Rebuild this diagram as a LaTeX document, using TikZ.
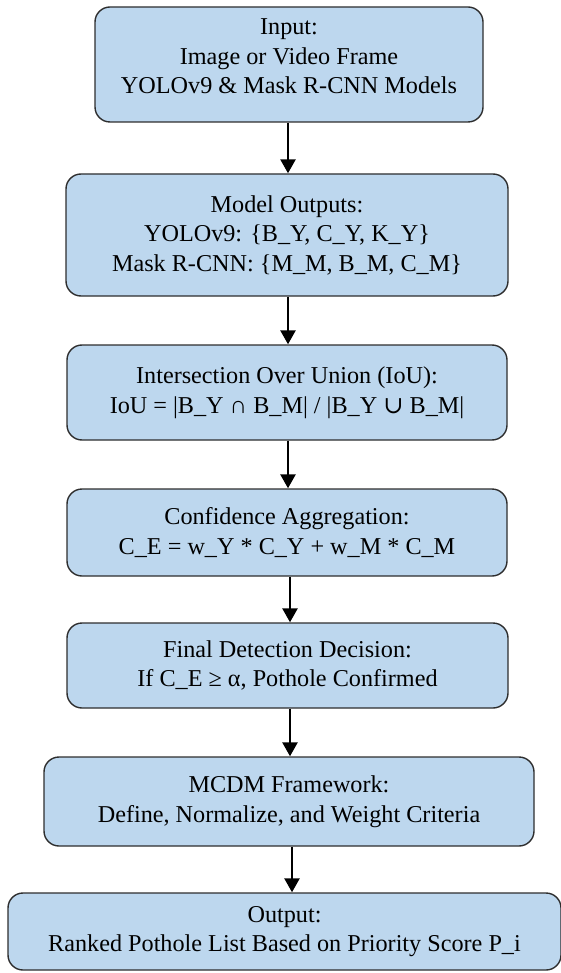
\documentclass[tikz,border=0pt]{standalone}
\usepackage{fontspec}
\setmainfont{Liberation Serif}
\newfontfamily\symfnt{DejaVu Serif}
\usetikzlibrary{arrows.meta}
\definecolor{boxfill}{HTML}{BDD7EE}
\definecolor{boxline}{HTML}{2E2E2E}
\tikzset{
  flowbox/.style={draw=boxline, line width=1.4pt, fill=boxfill, rounded corners=15pt,
    inner sep=0pt, align=center, anchor=center,
    font=\fontsize{24.2}{29.5}\selectfont},
  flowarrow/.style={draw=black, line width=2.6pt,
    -{Triangle[width=15pt,length=14pt]}}
}
\begin{document}
\begin{tikzpicture}[x=1pt,y=-1pt]
\useasboundingbox (0,0) rectangle (561,973);
\node[flowbox, minimum width=388pt, minimum height=115pt] (b1) at (289,64.5)
  {Input:\\Image or Video Frame\\YOLOv9 \& Mask R-CNN Models\\[-13pt]\mbox{}};
\node[flowbox, minimum width=442pt, minimum height=122pt] (b2) at (287,235)
  {Model Outputs:\\YOLOv9: \{B\_Y, C\_Y, K\_Y\}\\Mask R-CNN: \{M\_M, B\_M, C\_M\}};
\node[flowbox, minimum width=440pt, minimum height=95pt] (b3) at (287,392.5)
  {Intersection Over Union (IoU):\\IoU = |B\_Y ∩ B\_M| / |B\_Y {\symfnt ∪} B\_M|};
\node[flowbox, minimum width=440pt, minimum height=87pt] (b4) at (287,532.5)
  {Confidence Aggregation:\\C\_E = w\_Y * C\_Y + w\_M * C\_M};
\node[flowbox, minimum width=441pt, minimum height=85pt] (b5) at (287.5,665.5)
  {Final Detection Decision:\\If C\_E ≥ α, Pothole Confirmed};
\node[flowbox, minimum width=490pt, minimum height=89pt] (b6) at (289,801.5)
  {MCDM Framework:\\Define, Normalize, and Weight Criteria};
\node[flowbox, minimum width=553pt, minimum height=77pt] (b7) at (284.5,931.5)
  {Output:\\Ranked Pothole List Based on Priority Score P\_i};
\draw[flowarrow] (b1.south -| 288,0) -- (b2.north -| 288,0);
\draw[flowarrow] (b2.south -| 288,0) -- (b3.north -| 288,0);
\draw[flowarrow] (b3.south -| 288,0) -- (b4.north -| 288,0);
\draw[flowarrow] (b4.south -| 290,0) -- (b5.north -| 290,0);
\draw[flowarrow] (b5.south -| 290,0) -- (b6.north -| 290,0);
\draw[flowarrow] (b6.south -| 292,0) -- (b7.north -| 292,0);
\end{tikzpicture}
\end{document}
